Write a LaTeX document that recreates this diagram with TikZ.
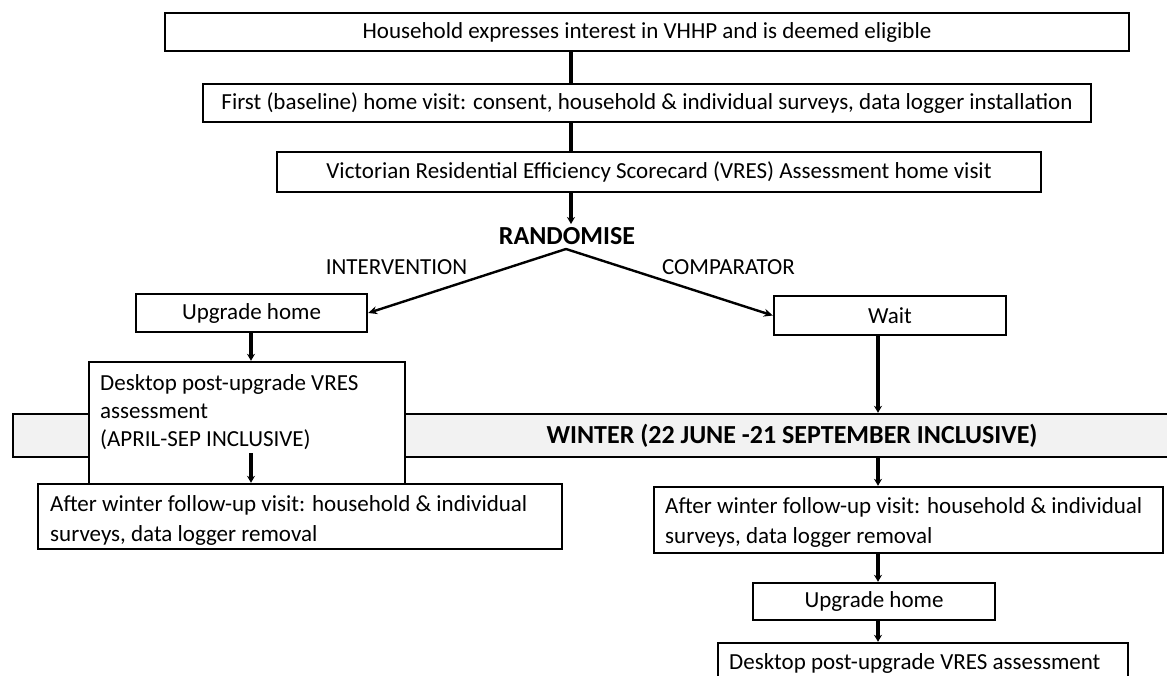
\documentclass[tikz,border=0pt]{standalone}
\usepackage{fontspec}
\setmainfont{Carlito}
\usetikzlibrary{arrows.meta,calc}
\begin{document}
\begin{tikzpicture}[x=1pt,y=-1pt,
  box/.style={draw=black, line width=2.4pt, fill=white, inner sep=0pt, font=\fontsize{23}{28}\selectfont},
  plain/.style={inner sep=0pt, font=\fontsize{23}{28}\selectfont},
  multi/.style={inner sep=0pt, font=\fontsize{23}{30}\selectfont, align=left, anchor=north west},
  boldlbl/.style={inner sep=0pt, font=\fontsize{26}{30}\selectfont\bfseries},
  band/.style={draw=black, line width=2.4pt, fill=black!5, inner sep=0pt},
  conn/.style={line width=3.6pt},
  varr/.style={line width=3.6pt, -{Stealth[length=7pt,width=8pt]}},
  darr/.style={line width=2.4pt, -{Stealth[length=9pt,width=8pt]}}]
\useasboundingbox (0,0) rectangle (1167,676);
% winter band (behind)
\node[band, minimum width=1164pt, minimum height=43pt] (band) at (595,435.5) {};
\node[boldlbl] (bandt) at (792,436) {WINTER (22 JUNE -21 SEPTEMBER INCLUSIVE)};
% top boxes
\node[box, minimum width=964pt, minimum height=38pt] (b1) at (647,32) {Household expresses interest in VHHP and is deemed eligible};
\node[box, minimum width=888pt, minimum height=38pt] (b2) at (647,103) {First (baseline) home visit: consent, household \& individual surveys, data logger installation};
\node[box, minimum width=764pt, minimum height=40pt] (b3) at (659,172) {Victorian Residential Efficiency Scorecard (VRES) Assessment home visit};
\coordinate (cx) at (571,0);
\node[boldlbl, anchor=base] (rand) at (567,245) {RANDOMISE};
\coordinate (split) at (566,249);
\draw[conn] (b1.south -| cx) -- (b2.north -| cx);
\draw[conn] (b2.south -| cx) -- (b3.north -| cx);
\draw[varr] (b3.south -| cx) -- (571,224);
% branches
\node[plain] (intl) at (396.5,267) {INTERVENTION};
\node[plain] (compl) at (728.5,267) {COMPARATOR};
\node[box, minimum width=231pt, minimum height=38pt] (uh1) at (251.5,313) {Upgrade home};
\node[box, minimum width=232pt, minimum height=39pt] (wait) at (890,315.5) {Wait};
\draw[darr] (split) -- (uh1.east);
\draw[darr] (split) -- (wait.west);
% intervention arm
\node[box, minimum width=316pt, minimum height=122pt] (desk1) at (247,423) {};
\node[multi, font=\fontsize{23}{28}\selectfont] (desk1t) at (100,374) {Desktop post-upgrade VRES\\assessment\\(APRIL-SEP INCLUSIVE)};
\coordinate (cl) at (251,0);
\draw[varr] (uh1.south -| cl) -- (desk1.north -| cl);
\node[box, minimum width=524pt, minimum height=65pt] (aw1) at (300,516.5) {};
\node[multi] (aw1t) at (50,495) {After winter follow-up visit: household \& individual\\surveys, data logger removal};
\coordinate (inner) at (251,453);
\draw[varr] (inner) -- (aw1.north -| cl);
% comparator arm
\coordinate (cr) at (878,0);
\node[box, minimum width=509pt, minimum height=66pt] (aw2) at (908.5,520) {};
\node[multi] (aw2t) at (665,497) {After winter follow-up visit: household \& individual\\surveys, data logger removal};
\draw[varr] (wait.south -| cr) -- (band.north -| cr);
\draw[varr] (band.south -| cr) -- (aw2.north -| cr);
\node[box, minimum width=242pt, minimum height=37pt] (uh2) at (874,601.5) {Upgrade home};
\node[box, minimum width=410pt, minimum height=50pt] (desk2) at (923,668) {};
\node[plain, anchor=west] (desk2t) at (729,663) {Desktop post-upgrade VRES assessment};
\draw[varr] (aw2.south -| cr) -- (uh2.north -| cr);
\draw[varr] (uh2.south -| cr) -- (desk2.north -| cr);
\end{tikzpicture}
\end{document}
